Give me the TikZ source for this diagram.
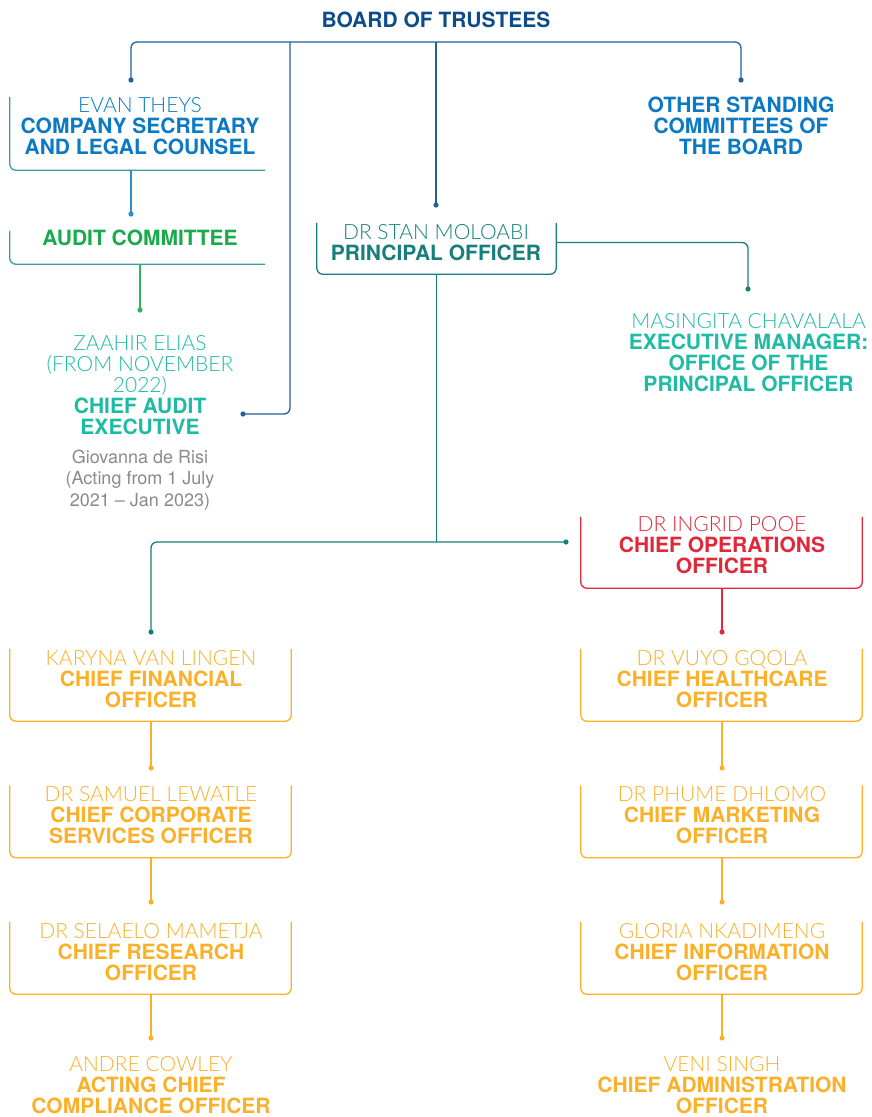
\documentclass[tikz,border=0pt]{standalone}
\usepackage{fontspec}
\setmainfont{TeX Gyre Heros}
\IfFontExistsTF{Lato Light}
  {\newfontfamily\namefont{Lato Light}}
  {\newfontfamily\namefont{TeX Gyre Heros}}
\newcommand\personname[1]{{\namefont #1}}
\newcommand\rolename[1]{{\bfseries #1}}

\definecolor{boardblue}{HTML}{0E4C89}
\definecolor{barline}{HTML}{22609A}
\definecolor{secblue}{HTML}{0B79C3}
\definecolor{boxteal}{HTML}{3E9DA3}
\definecolor{seclink}{HTML}{2F8BCE}
\definecolor{auditgreen}{HTML}{18AA4B}
\definecolor{greenlink}{HTML}{2DB560}
\definecolor{caeteal}{HTML}{1EBBA3}
\definecolor{actgrey}{HTML}{8A8A8A}
\definecolor{poteal}{HTML}{177F79}
\definecolor{mgrteal}{HTML}{1FBBA4}
\definecolor{coored}{HTML}{E0283A}
\definecolor{execorange}{HTML}{FBB02A}

\tikzset{
  every node/.style={inner sep=0pt, align=center, font=\fontsize{21}{21}\selectfont},
  boxarea/.style={draw=none, minimum width=#1},
  boxarea/.default=281pt,
  link/.style={line width=1.3pt, rounded corners=6pt},
  frame/.style={line width=1.3pt, rounded corners=6pt},
}
% open-topped frames: left side, bottom and (for U frames) right side
\newcommand\uframe[2]{\draw[frame,#2] (#1.north west) -- (#1.south west) -- (#1.south east) -- (#1.north east);}
\newcommand\lframe[2]{\draw[frame,#2] (#1.north west) -- (#1.south west) -- (#1.south east);}
\newcommand\dotat[2]{\fill[#2] (#1) circle (2.6pt);}

\begin{document}
\begin{tikzpicture}[x=1pt,y=-1pt]
\useasboundingbox (0,0) rectangle (872,1117);

% ---- text blocks
\node[text=boardblue, font=\fontsize{21}{21}\selectfont\bfseries] (board) at (436,20) {BOARD OF TRUSTEES};
\node[text=secblue] (evan) at (140,126) {\personname{EVAN THEYS}\\\rolename{COMPANY SECRETARY}\\\rolename{AND LEGAL COUNSEL}};
\node[text=secblue] (other) at (741,126) {\rolename{OTHER STANDING}\\\rolename{COMMITTEES OF}\\\rolename{THE BOARD}};
\node[text=auditgreen] (audit) at (140,238) {\rolename{AUDIT COMMITTEE}};
\node[text=caeteal] (cae) at (140,385) {\personname{ZAAHIR ELIAS}\\\personname{(FROM NOVEMBER}\\\personname{2022)}\\\rolename{CHIEF AUDIT}\\\rolename{EXECUTIVE}};
\node[text=actgrey, font=\fontsize{18}{21.5}\selectfont] (acting) at (140,480) {Giovanna de Risi\\(Acting from 1 July\\2021 – Jan 2023)};
\node[text=poteal] (stan) at (436,242.5) {\personname{DR STAN MOLOABI}\\\rolename{PRINCIPAL OFFICER}};
\node[text=mgrteal] (mgr) at (748.5,352.5) {\personname{MASINGITA CHAVALALA}\\\rolename{EXECUTIVE MANAGER:}\\\rolename{OFFICE OF THE}\\\rolename{PRINCIPAL OFFICER}};
\node[text=coored] (coo) at (722,545) {\personname{DR INGRID POOE}\\\rolename{CHIEF OPERATIONS}\\\rolename{OFFICER}};
\node[text=execorange] (cfo) at (151,679) {\personname{KARYNA VAN LINGEN}\\\rolename{CHIEF FINANCIAL}\\\rolename{OFFICER}};
\node[text=execorange] (cso) at (151,815.5) {\personname{DR SAMUEL LEWATLE}\\\rolename{CHIEF CORPORATE}\\\rolename{SERVICES OFFICER}};
\node[text=execorange] (cro) at (151,952) {\personname{DR SELAELO MAMETJA}\\\rolename{CHIEF RESEARCH}\\\rolename{OFFICER}};
\node[text=execorange] (cco) at (151,1085.5) {\personname{ANDRE COWLEY}\\\rolename{ACTING CHIEF}\\\rolename{COMPLIANCE OFFICER}};
\node[text=execorange] (cho) at (722,679) {\personname{DR VUYO GQOLA}\\\rolename{CHIEF HEALTHCARE}\\\rolename{OFFICER}};
\node[text=execorange] (cmo) at (722,815.5) {\personname{DR PHUME DHLOMO}\\\rolename{CHIEF MARKETING}\\\rolename{OFFICER}};
\node[text=execorange] (cio) at (722,952) {\personname{GLORIA NKADIMENG}\\\rolename{CHIEF INFORMATION}\\\rolename{OFFICER}};
\node[text=execorange] (cao) at (722,1085.5) {\personname{VENI SINGH}\\\rolename{CHIEF ADMINISTRATION}\\\rolename{OFFICER}};

% ---- frame areas
\node[boxarea=255pt, minimum height=73pt] (evanbox) at (137.5,133.5) {};
\node[boxarea=255pt, minimum height=33pt] (auditbox) at (137.5,247.5) {};
\node[boxarea=239pt, minimum height=51pt] (stanbox) at (436.5,248.5) {};
\node[boxarea, minimum height=71pt] (coobox) at (721.5,552.5) {};
\node[boxarea, minimum height=72pt] (cfobox) at (150.5,685) {};
\node[boxarea, minimum height=72pt] (csobox) at (150.5,821.5) {};
\node[boxarea, minimum height=72pt] (crobox) at (150.5,958) {};
\node[boxarea, minimum height=72pt] (chobox) at (721.5,685) {};
\node[boxarea, minimum height=72pt] (cmobox) at (721.5,821.5) {};
\node[boxarea, minimum height=72pt] (ciobox) at (721.5,958) {};

\lframe{evanbox}{boxteal}
\lframe{auditbox}{boxteal}
\uframe{stanbox}{poteal}
\uframe{coobox}{coored}
\uframe{cfobox}{execorange}
\uframe{csobox}{execorange}
\uframe{crobox}{execorange}
\uframe{chobox}{execorange}
\uframe{cmobox}{execorange}
\uframe{ciobox}{execorange}

% ---- connector end points
\coordinate (bar) at (436,42);
\coordinate (barcae) at (290,42);
\coordinate (evandot) at (131,80);
\coordinate (otherdot) at (741,80);
\coordinate (standot) at (436,205);
\coordinate (caesidedot) at (243,414);
\coordinate (auditdot) at (131,214);
\coordinate (caedot) at (140,310);
\coordinate (mgrdot) at (748,289);
\coordinate (coodot) at (566,542);
\coordinate (cfodot) at (151,632);
\coordinate (chodot) at (722,632);
\coordinate (csodot) at (151,768);
\coordinate (crodot) at (151,902);
\coordinate (ccodot) at (151,1038);
\coordinate (cmodot) at (722,768);
\coordinate (ciodot) at (722,902);
\coordinate (caodot) at (722,1038);

% ---- board connectors
\draw[link, barline] (evandot) |- (bar) -| (otherdot);
\draw[link, barline] (bar) -- (standot);
\draw[link, barline] (barcae) |- (caesidedot);
\dotat{evandot}{barline}
\dotat{otherdot}{barline}
\dotat{standot}{barline}
\dotat{caesidedot}{barline}

% ---- secretary and audit line
\draw[link, seclink] (evanbox.south -| auditdot) -- (auditdot);
\dotat{auditdot}{seclink}
\draw[link, greenlink] (auditbox.south -| caedot) -- (caedot);
\dotat{caedot}{greenlink}

% ---- principal officer
\draw[link, poteal] (stan.center -| stanbox.east) -| (mgrdot);
\dotat{mgrdot}{poteal}
\draw[link, poteal] (stanbox.south) -- (stanbox.south |- coodot);
\draw[link, poteal] (coodot) -| (cfodot);
\dotat{coodot}{poteal}
\dotat{cfodot}{poteal}

% ---- operations
\draw[link, coored] (coobox.south -| chodot) -- (chodot);
\dotat{chodot}{coored}

% ---- executive chains
\draw[link, execorange] (cfobox.south -| csodot) -- (csodot);
\draw[link, execorange] (csobox.south -| crodot) -- (crodot);
\draw[link, execorange] (crobox.south -| ccodot) -- (ccodot);
\draw[link, execorange] (chobox.south -| cmodot) -- (cmodot);
\draw[link, execorange] (cmobox.south -| ciodot) -- (ciodot);
\draw[link, execorange] (ciobox.south -| caodot) -- (caodot);
\foreach \d in {csodot,crodot,ccodot,cmodot,ciodot,caodot} {\dotat{\d}{execorange}}
\end{tikzpicture}
\end{document}
